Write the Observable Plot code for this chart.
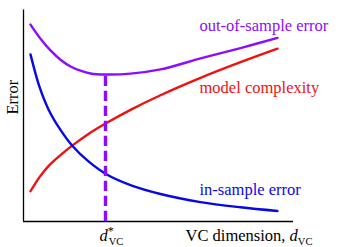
<!DOCTYPE html>
<html><head><meta charset="utf-8">
<script src="https://cdn.jsdelivr.net/npm/d3@7"></script>
<script src="https://cdn.jsdelivr.net/npm/@observablehq/plot@0.6"></script>
<style>
html,body{margin:0;padding:0;background:#fff;}
svg{display:block;background:#fff}
</style>
</head><body><div id="chart"></div>
<script>
// VC dimension (x) and error (y) in arbitrary units
const dimX       = [0.259, 0.593, 0.926, 1.370, 1.815, 2.407, 3.037, 3.963, 5.074, 6.556, 8.037, 9.407];
const inSampleY  = [7.90, 6.36, 5.30, 4.33, 3.57, 2.84, 2.26, 1.72, 1.30, 0.917, 0.671, 0.496];
const complexY   = [1.43, 2.10, 2.62, 3.14, 3.60, 4.14, 4.63, 5.28, 5.97, 6.79, 7.53, 8.17];
const outSampleX = [0.259, 0.630, 1.000, 1.370, 1.741, 2.111, 2.481, 3.037, 3.963, 5.074, 6.556, 8.037, 9.407];
const outSampleY = [9.31, 8.64, 8.09, 7.65, 7.33, 7.13, 7.00, 6.95, 6.99, 7.19, 7.71, 8.20, 8.68];
const dStar = 3.037;
const dStarError = 6.95;

const curveLabels = ["out-of-sample error", "model complexity", "in-sample error"];
const yLabel = "Error";
const xLabel = "VC dimension, d_VC";
const dStarLabel = "d*_VC";

const purple = "#8c0cff", red = "#f01010", blue = "#0808e6";
const font = "Liberation Serif";

const toRows = (xs, ys) => xs.map((x, i) => ({x, y: ys[i]}));

const chart = Plot.plot({
  width: 342, height: 247,
  marginLeft: 23, marginRight: 49, marginTop: 9.5, marginBottom: 26,
  x: {domain: [0, 10], axis: null},
  y: {domain: [0, 10], axis: null},
  marks: [
    Plot.ruleY([0], {stroke: "#000", strokeWidth: 1.3}),
    Plot.ruleX([0], {stroke: "#000", strokeWidth: 1.3}),
    Plot.line(toRows(dimX, complexY), {x: "x", y: "y", curve: "catmull-rom", stroke: red, strokeWidth: 2.4}),
    Plot.line(toRows(dimX, inSampleY), {x: "x", y: "y", curve: "catmull-rom", stroke: blue, strokeWidth: 2.4}),
    Plot.line(toRows(outSampleX, outSampleY), {x: "x", y: "y", curve: "catmull-rom", stroke: purple, strokeWidth: 2.4}),
    Plot.ruleX([{d: dStar, e: dStarError}], {x: "d", y1: 0, y2: "e", stroke: purple, strokeWidth: 3.4, strokeDasharray: "10.3,4.7"}),
    Plot.text([curveLabels[0]], {x: 6.52, y: 9.24, textAnchor: "start", fill: purple, fontSize: 16.5, fontFamily: font}),
    Plot.text([curveLabels[1]], {x: 6.52, y: 6.33, textAnchor: "start", fill: red, fontSize: 16.5, fontFamily: font}),
    Plot.text([curveLabels[2]], {x: 6.52, y: 1.50, textAnchor: "start", fill: blue, fontSize: 16.5, fontFamily: font}),
    Plot.text([yLabel], {frameAnchor: "left", y: 5.06, dx: -11, rotate: -90, fill: "#000", fontSize: 16.5, fontFamily: font}),
    Plot.text([dStarLabel], {x: dStar, y: 0, dx: -6, dy: 14.2, textAnchor: "start", fill: "#000", fontSize: 16.5, fontFamily: font}),
    Plot.text([xLabel], {x: 6.0, y: 0, dy: 14.2, textAnchor: "start", fill: "#000", fontSize: 16.5, fontFamily: font})
  ]
});

// turn "d*_VC" style labels into italic d with super/subscripts
d3.select(chart).selectAll("text").each(function () {
  const el = d3.select(this);
  const s = el.text();
  const m = s.match(/^(.*?)([a-z])(\*?)_(\w+)$/);
  if (!m) return;
  el.text(null);
  if (m[1]) el.append("tspan").text(m[1]);
  el.append("tspan").attr("font-style", "italic").text(m[2]);
  if (m[3]) {
    el.append("tspan").attr("font-size", 12).attr("dy", -6).text("*");
    el.append("tspan").attr("font-size", 10.5).attr("dx", -5).attr("dy", 10).text(m[4]);
  } else {
    el.append("tspan").attr("font-size", 10.5).attr("dy", 4).text(m[4]);
  }
});

document.getElementById("chart").appendChild(chart);
</script>
</body></html>
